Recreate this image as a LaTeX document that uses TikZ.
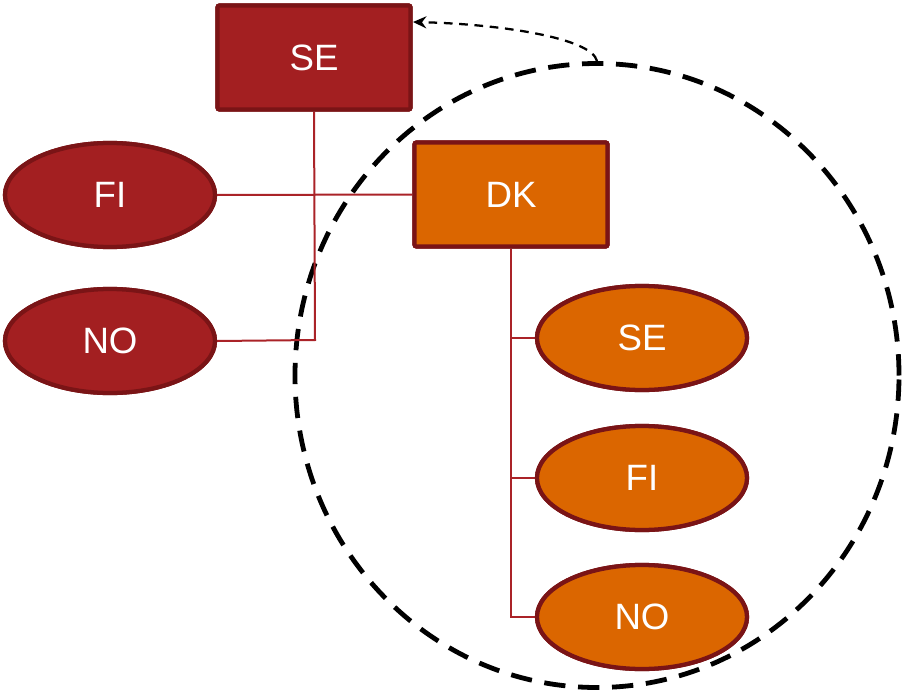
\documentclass[tikz,border=0pt]{standalone}
\usepackage{fontspec}
\setmainfont{Liberation Sans}
\usetikzlibrary{arrows.meta,shapes.geometric}
\definecolor{darkred}{RGB}{163,31,33}
\definecolor{borderred}{RGB}{122,20,22}
\definecolor{orangefill}{RGB}{219,102,0}
\definecolor{linered}{RGB}{170,35,40}
\newlength{\pxu}
\setlength{\pxu}{0.75pt}
\tikzset{
  redbox/.style={draw=borderred, fill=darkred, line width=3.2pt, rounded corners=1.5pt, minimum width=193\pxu, minimum height=104\pxu, inner sep=0pt, text=white, font=\fontsize{27.5}{30}\selectfont},
  orangebox/.style={redbox, fill=orangefill},
  redell/.style={draw=borderred, fill=darkred, line width=3.2pt, ellipse, minimum width=210\pxu, minimum height=104\pxu, inner sep=0pt, text=white, font=\fontsize{27.5}{30}\selectfont},
  orangeell/.style={redell, fill=orangefill},
  conn/.style={draw=linered, line width=1.5pt},
}
\begin{document}
\begin{tikzpicture}[x=0.75pt, y=-0.75pt]
\useasboundingbox (0,0) rectangle (903,692);
% dashed circle
\node[draw=black, line width=3.6pt, dash pattern=on 16pt off 9.5pt, ellipse, minimum width=604\pxu, minimum height=624\pxu, inner sep=0pt] (circ) at (597,375.5) {};
% node placeholders for connectors
\node[redbox] (se) at (314,57.5) {SE};
\node[redell] (fi) at (110,195) {FI};
\node[redell] (no) at (110,341) {NO};
\node[orangebox] (dk) at (511,194.5) {DK};
\node[orangeell] (ose) at (642,338) {SE};
\node[orangeell] (ofi) at (642,478) {FI};
\node[orangeell] (ono) at (642,617) {NO};
\coordinate (j1) at (315,340);
\draw[conn] (se.south) -- (j1) -- (no.east);
\draw[conn] (fi.east) -- (dk.west);
\coordinate (j2) at (511,617);
\coordinate (b1) at (511,338);
\coordinate (b2) at (511,478);
\draw[conn] (dk.south) -- (j2) -- (ono.west);
\draw[conn] (b1) -- (ose.west);
\draw[conn] (b2) -- (ofi.west);
% redraw nodes on top of connectors
\node[redbox] at (se) {SE};
\node[redell] at (fi) {FI};
\node[redell] at (no) {NO};
\node[orangebox] at (dk) {DK};
\node[orangeell] at (ose) {SE};
\node[orangeell] at (ofi) {FI};
\node[orangeell] at (ono) {NO};
% arrow
\coordinate (tip) at (413,22);
\draw[line width=1.7pt, dash pattern=on 6.5pt off 5pt, -{Stealth[length=10pt,width=9pt]}] (circ.north) .. controls (592,38) and (500,24) .. (tip);
\end{tikzpicture}
\end{document}
